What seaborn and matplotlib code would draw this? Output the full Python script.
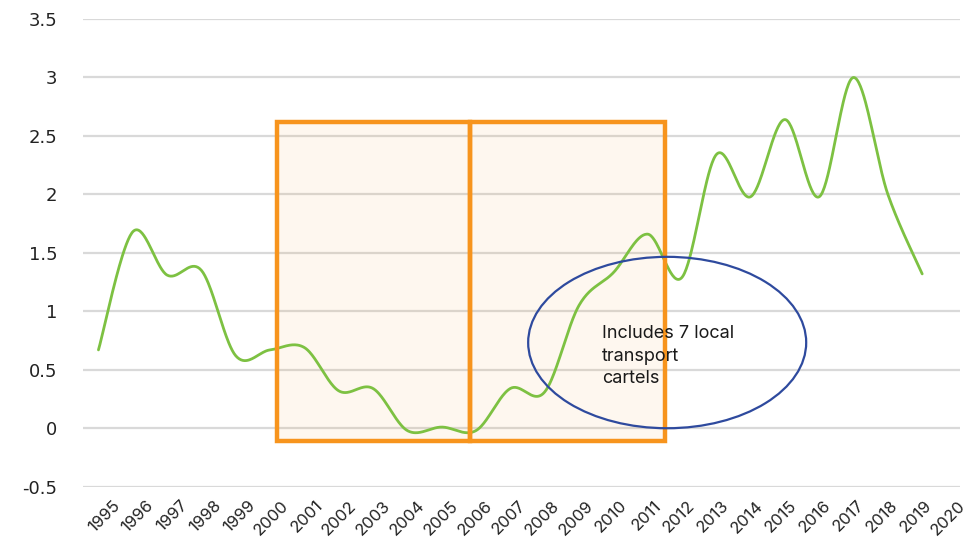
import numpy as np
import pandas as pd
import matplotlib
matplotlib.use("Agg")
import matplotlib.pyplot as plt
from matplotlib.patches import Rectangle, Ellipse
import seaborn as sns

# Yearly values (1995-2019); the 2020 category has no value
years = [str(y) for y in range(1995, 2021)]
values = [0.67, 1.68, 1.31, 1.35, 0.62, 0.67, 0.69, 0.32, 0.34, -0.02,
          0.01, -0.02, 0.34, 0.31, 1.05, 1.33, 1.66, 1.29, 2.34, 1.98,
          2.64, 1.98, 3.00, 2.00, 1.32]
y_ticks = [-0.5, 0, 0.5, 1, 1.5, 2, 2.5, 3, 3.5]
y_tick_labels = ["-0.5", "0", "0.5", "1", "1.5", "2", "2.5", "3", "3.5"]
note_text = "Includes 7 local\ntransport\ncartels"

GREEN = "#7dc142"
ORANGE = "#f7941d"
BLUE = "#2e4a9e"
GRID = "#d9d9d9"


def smooth_path(xs, ys, steps=40):
    """Cubic Bezier path through the points (Catmull-Rom style smoothing)."""
    xs = np.asarray(xs, float)
    ys = np.asarray(ys, float)
    px = np.concatenate([[xs[0]], xs, [xs[-1]]])
    py = np.concatenate([[ys[0]], ys, [ys[-1]]])
    out_x, out_y = [], []
    t = np.linspace(0, 1, steps, endpoint=False)
    for i in range(1, len(px) - 2):
        p0x, p0y = px[i], py[i]
        p3x, p3y = px[i + 1], py[i + 1]
        c1x = p0x + (px[i + 1] - px[i - 1]) / 6
        c1y = p0y + (py[i + 1] - py[i - 1]) / 6
        c2x = p3x - (px[i + 2] - px[i]) / 6
        c2y = p3y - (py[i + 2] - py[i]) / 6
        b0 = (1 - t) ** 3
        b1 = 3 * (1 - t) ** 2 * t
        b2 = 3 * (1 - t) * t ** 2
        b3 = t ** 3
        out_x.extend(b0 * p0x + b1 * c1x + b2 * c2x + b3 * p3x)
        out_y.extend(b0 * p0y + b1 * c1y + b2 * c2y + b3 * p3y)
    out_x.append(xs[-1])
    out_y.append(ys[-1])
    return np.array(out_x), np.array(out_y)


sns.set_theme(style="white")
plt.rcParams["font.family"] = ["DejaVu Sans"]
plt.rcParams["axes.unicode_minus"] = False

fig = plt.figure(figsize=(9.73, 5.40), dpi=100)
ax = fig.add_axes([0.0853, 0.0987, 0.9013, 0.8661])

pos = np.arange(len(values))
sx, sy = smooth_path(pos, values)
curve = pd.DataFrame({"x": sx, "y": sy})
sns.lineplot(data=curve, x="x", y="y", sort=False, color=GREEN,
             linewidth=2.0, ax=ax, zorder=3)

ax.set_xlim(-0.45, 25.1)
ax.set_ylim(-0.5, 3.5)
ax.set_yticks(y_ticks)
ax.set_yticklabels(y_tick_labels, fontsize=13, color="#222222")

# year labels sit slightly right of each category, ending under the next gap
label_pos = 0.395 + 0.986 * np.arange(len(years))
ax.set_xticks(label_pos)
ax.set_xticklabels(years, rotation=45, ha="right", rotation_mode="anchor",
                   fontsize=12, color="#222222", family=["Inter", "DejaVu Sans"])
ax.tick_params(axis="y", length=0, pad=18.5)
ax.tick_params(axis="x", length=0, pad=8)
ax.grid(axis="y", color=GRID, linewidth=1.6)
ax.grid(axis="x", visible=False)
for s in ax.spines.values():
    s.set_visible(False)
ax.set_xlabel("")
ax.set_ylabel("")

# highlighted periods
for x0, x1 in [(5.20, 10.83), (10.83, 16.51)]:
    ax.add_patch(Rectangle((x0, -0.11), x1 - x0, 2.73, facecolor=ORANGE,
                           alpha=0.07, edgecolor="none", zorder=1))
    ax.add_patch(Rectangle((x0, -0.11), x1 - x0, 2.73, facecolor="none",
                           edgecolor=ORANGE, linewidth=3.2, zorder=4))

# callout
ax.add_patch(Ellipse((16.57, 0.733), 8.10, 1.466, facecolor="none",
                     edgecolor=BLUE, linewidth=1.6, zorder=5))
ax.text(14.68, 0.885, note_text, fontsize=13, family=["Inter", "DejaVu Sans"],
        color="#1a1a1a", va="top", ha="left", linespacing=1.45, zorder=6)

fig.savefig("out.png", dpi=100)
